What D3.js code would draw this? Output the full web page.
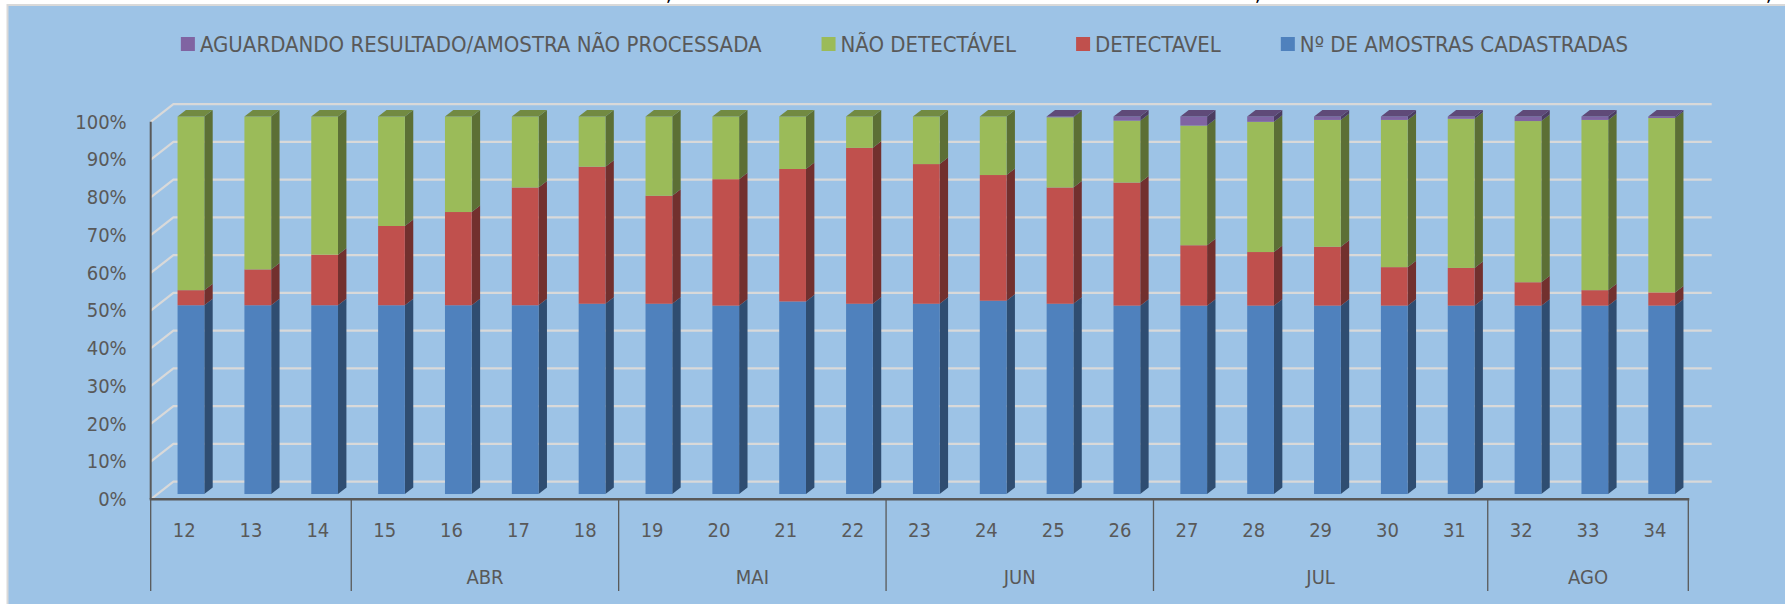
<!DOCTYPE html>
<html>
<head>
<meta charset="utf-8">
<script src="https://cdn.jsdelivr.net/npm/d3@7"></script>
<style>
  html, body { margin: 0; padding: 0; background: #ffffff; }
  svg { display: block; }
  text { font-family: "Liberation Sans Narrow", "DejaVu Sans Condensed", "Liberation Sans", sans-serif; }
</style>
</head>
<body>
<svg id="chart" width="1785" height="604"></svg>
<script>
// ---------- DATA ----------
const weeks = ["12","13","14","15","16","17","18","19","20","21","22","23","24","25","26","27","28","29","30","31","32","33","34"];
const monthLabels = ["", "ABR", "MAI", "JUN", "JUL", "AGO"];
const monthSpans = [3, 4, 4, 4, 5, 3];
const yTicks = [0, 0.1, 0.2, 0.3, 0.4, 0.5, 0.6, 0.7, 0.8, 0.9, 1.0];

const seriesNames = ["Nº DE AMOSTRAS CADASTRADAS", "DETECTAVEL", "NÃO DETECTÁVEL", "AGUARDANDO RESULTADO/AMOSTRA NÃO PROCESSADA"];
const cadastradas   = [50,50,50,50,50,50,50.4,50.4,49.9,51,50.4,50.4,51.2,50.4,49.9,49.9,49.9,49.9,49.9,49.9,49.9,49.9,49.9];
const detectavel    = [4,9.5,13.4,21,24.7,31.2,36.3,28.6,33.5,35.1,41.3,37,33.3,30.8,32.6,16,14.2,15.6,10.2,10,6.2,4.1,3.5];
const naoDetectavel = [46,40.5,36.6,29,25.3,18.8,13.3,21,16.6,13.9,8.3,12.6,15.5,18.6,16.4,31.7,34.5,33.6,39,39.5,42.7,45.1,46.2];
const aguardando    = [0,0,0,0,0,0,0,0,0,0,0,0,0,0.2,1.1,2.4,1.4,0.9,0.9,0.6,1.2,0.9,0.4];

// ---------- STYLE ----------
const colors = ["#4F81BD", "#C0504D", "#9BBB59", "#8064A2"];
const textColor = "#595959";
const gridColor = "#D9D9D9";
const fontStack = '"Liberation Sans Narrow", "DejaVu Sans Condensed", "Liberation Sans", sans-serif';

// ---------- BUILD TABLE ----------
const seriesArrays = [cadastradas, detectavel, naoDetectavel, aguardando];
const keys = ["cad", "det", "nd", "ag"];
const table = weeks.map((w, i) => {
  const row = { week: w };
  keys.forEach((k, j) => row[k] = seriesArrays[j][i]);
  return row;
});
const stacked = d3.stack().keys(keys).offset(d3.stackOffsetExpand)(table);

// ---------- GEOMETRY ----------
const svg = d3.select("#chart");
const axisLeftX = 150.7, axisRightX = 1688.3;
const depthDx = 22.7, depthDy = 17.6;     // full floor depth
const barShift = 0.3;                      // bar front plane position in depth
const barDepth = 0.37;                     // bar depth fraction
const y = d3.scaleLinear().domain([0, 1]).range([499.3, 121.8]);
const x = d3.scaleBand().domain(weeks).range([axisLeftX, axisRightX]).paddingInner(0.6).paddingOuter(0.3);
const xCat = d3.scaleBand().domain(weeks).range([axisLeftX, axisRightX]).padding(0);

// background
svg.append("rect").attr("x", 7.5).attr("y", 5).attr("width", 1800).attr("height", 700)
  .attr("fill", "#9DC3E6").attr("stroke", gridColor).attr("stroke-width", 2);

// cut-off title fragments at top (as in the reference)
[669, 1258, 1769].forEach(cx => {
  svg.append("text").attr("x", cx).attr("y", 0.5).attr("font-size", 22).attr("fill", "#000")
    .attr("text-anchor", "middle").text(",");
});

// ---------- GRIDLINES (side wall + back wall) ----------
const grid = svg.append("g");
yTicks.forEach(v => {
  const yf = y(v);
  grid.append("path")
    .attr("d", `M${axisLeftX},${yf} L${axisLeftX + depthDx},${yf - depthDy} L${1711.7},${yf - depthDy}`)
    .attr("fill", "none").attr("stroke", gridColor).attr("stroke-width", 2.2);
});

// ---------- BARS ----------
const bdx = depthDx * barDepth, bdy = depthDy * barDepth;
const sx = depthDx * barShift, sy = depthDy * barShift;
const barsG = svg.append("g");
const shade = (c, k) => d3.rgb(c).darker(k).formatHex();

weeks.forEach((w, i) => {
  let topIdx = 0;
  stacked.forEach((s, j) => { if (s[i][1] - s[i][0] > 1e-6) topIdx = j; });
  stacked.forEach((s, j) => {
    const d = s[i];
    if (d[1] - d[0] <= 1e-6) return;
    const x0 = x(w) + sx, bw = x.bandwidth();
    const yT = y(d[1]) - sy, yB = y(d[0]) - sy;
    const c = colors[j];
    barsG.append("path")
      .attr("d", `M${x0 + bw},${yT} L${x0 + bw + bdx},${yT - bdy} L${x0 + bw + bdx},${yB - bdy} L${x0 + bw},${yB} Z`)
      .attr("fill", shade(c, 1.45));
    barsG.append("rect").attr("x", x0).attr("y", yT).attr("width", bw).attr("height", yB - yT)
      .attr("fill", c);
    if (j === topIdx) {
      barsG.append("path")
        .attr("d", `M${x0},${yT} L${x0 + bdx},${yT - bdy} L${x0 + bw + bdx},${yT - bdy} L${x0 + bw},${yT} Z`)
        .attr("fill", shade(c, 0.85));
    }
  });
});

// ---------- AXES ----------
const yAxis = d3.axisLeft(y).tickValues(yTicks).tickFormat(d3.format(".0%")).tickSize(0).tickPadding(24);
const yAxisG = svg.append("g").attr("transform", `translate(${axisLeftX},0)`).call(yAxis);
yAxisG.select(".domain").remove();
yAxisG.selectAll("text").attr("font-size", 20).attr("fill", textColor).style("font-family", fontStack);

svg.append("line").attr("x1", axisLeftX).attr("x2", axisLeftX).attr("y1", y(1)).attr("y2", y(0))
  .attr("stroke", textColor).attr("stroke-width", 2);

const xAxis = d3.axisBottom(xCat).tickSize(0).tickPadding(24);
const xAxisG = svg.append("g").attr("transform", `translate(0,${y(0)})`).call(xAxis);
xAxisG.select(".domain").remove();
xAxisG.selectAll("text").attr("font-size", 20).attr("fill", textColor).style("font-family", fontStack);

svg.append("line").attr("x1", axisLeftX - 1).attr("x2", axisRightX + 1).attr("y1", y(0)).attr("y2", y(0))
  .attr("stroke", textColor).attr("stroke-width", 2.6);

// month groups
let startIdx = 0;
const bounds = [0];
monthSpans.forEach(n => { startIdx += n; bounds.push(startIdx); });
const catX = k => k < weeks.length ? xCat(weeks[k]) : axisRightX;
bounds.forEach(k => {
  svg.append("line").attr("x1", catX(k)).attr("x2", catX(k)).attr("y1", y(0)).attr("y2", 591)
    .attr("stroke", textColor).attr("stroke-width", 1.3);
});
monthLabels.forEach((lab, m) => {
  const cx = (catX(bounds[m]) + catX(bounds[m + 1])) / 2;
  svg.append("text").attr("x", cx).attr("y", 577).attr("dy", "0.35em").attr("text-anchor", "middle")
    .attr("font-size", 20).attr("fill", textColor).text(lab);
});

// ---------- LEGEND ----------
const legendOrder = [3, 2, 1, 0];
const legendG = svg.append("g");
let lx = 0;
legendOrder.forEach(j => {
  const g = legendG.append("g").attr("transform", `translate(${lx},0)`);
  g.append("rect").attr("x", 0).attr("y", 37).attr("width", 14).attr("height", 14).attr("fill", colors[j]);
  const t = g.append("text").attr("x", 19).attr("y", 44).attr("dy", "0.35em").attr("font-size", 22)
    .attr("fill", textColor).text(seriesNames[j]);
  const tw = t.node().getComputedTextLength();
  lx += 19 + tw + 60;
});
const legendW = lx - 60;
legendG.attr("transform", `translate(${904.5 - legendW / 2},0)`);
</script>
</body>
</html>
